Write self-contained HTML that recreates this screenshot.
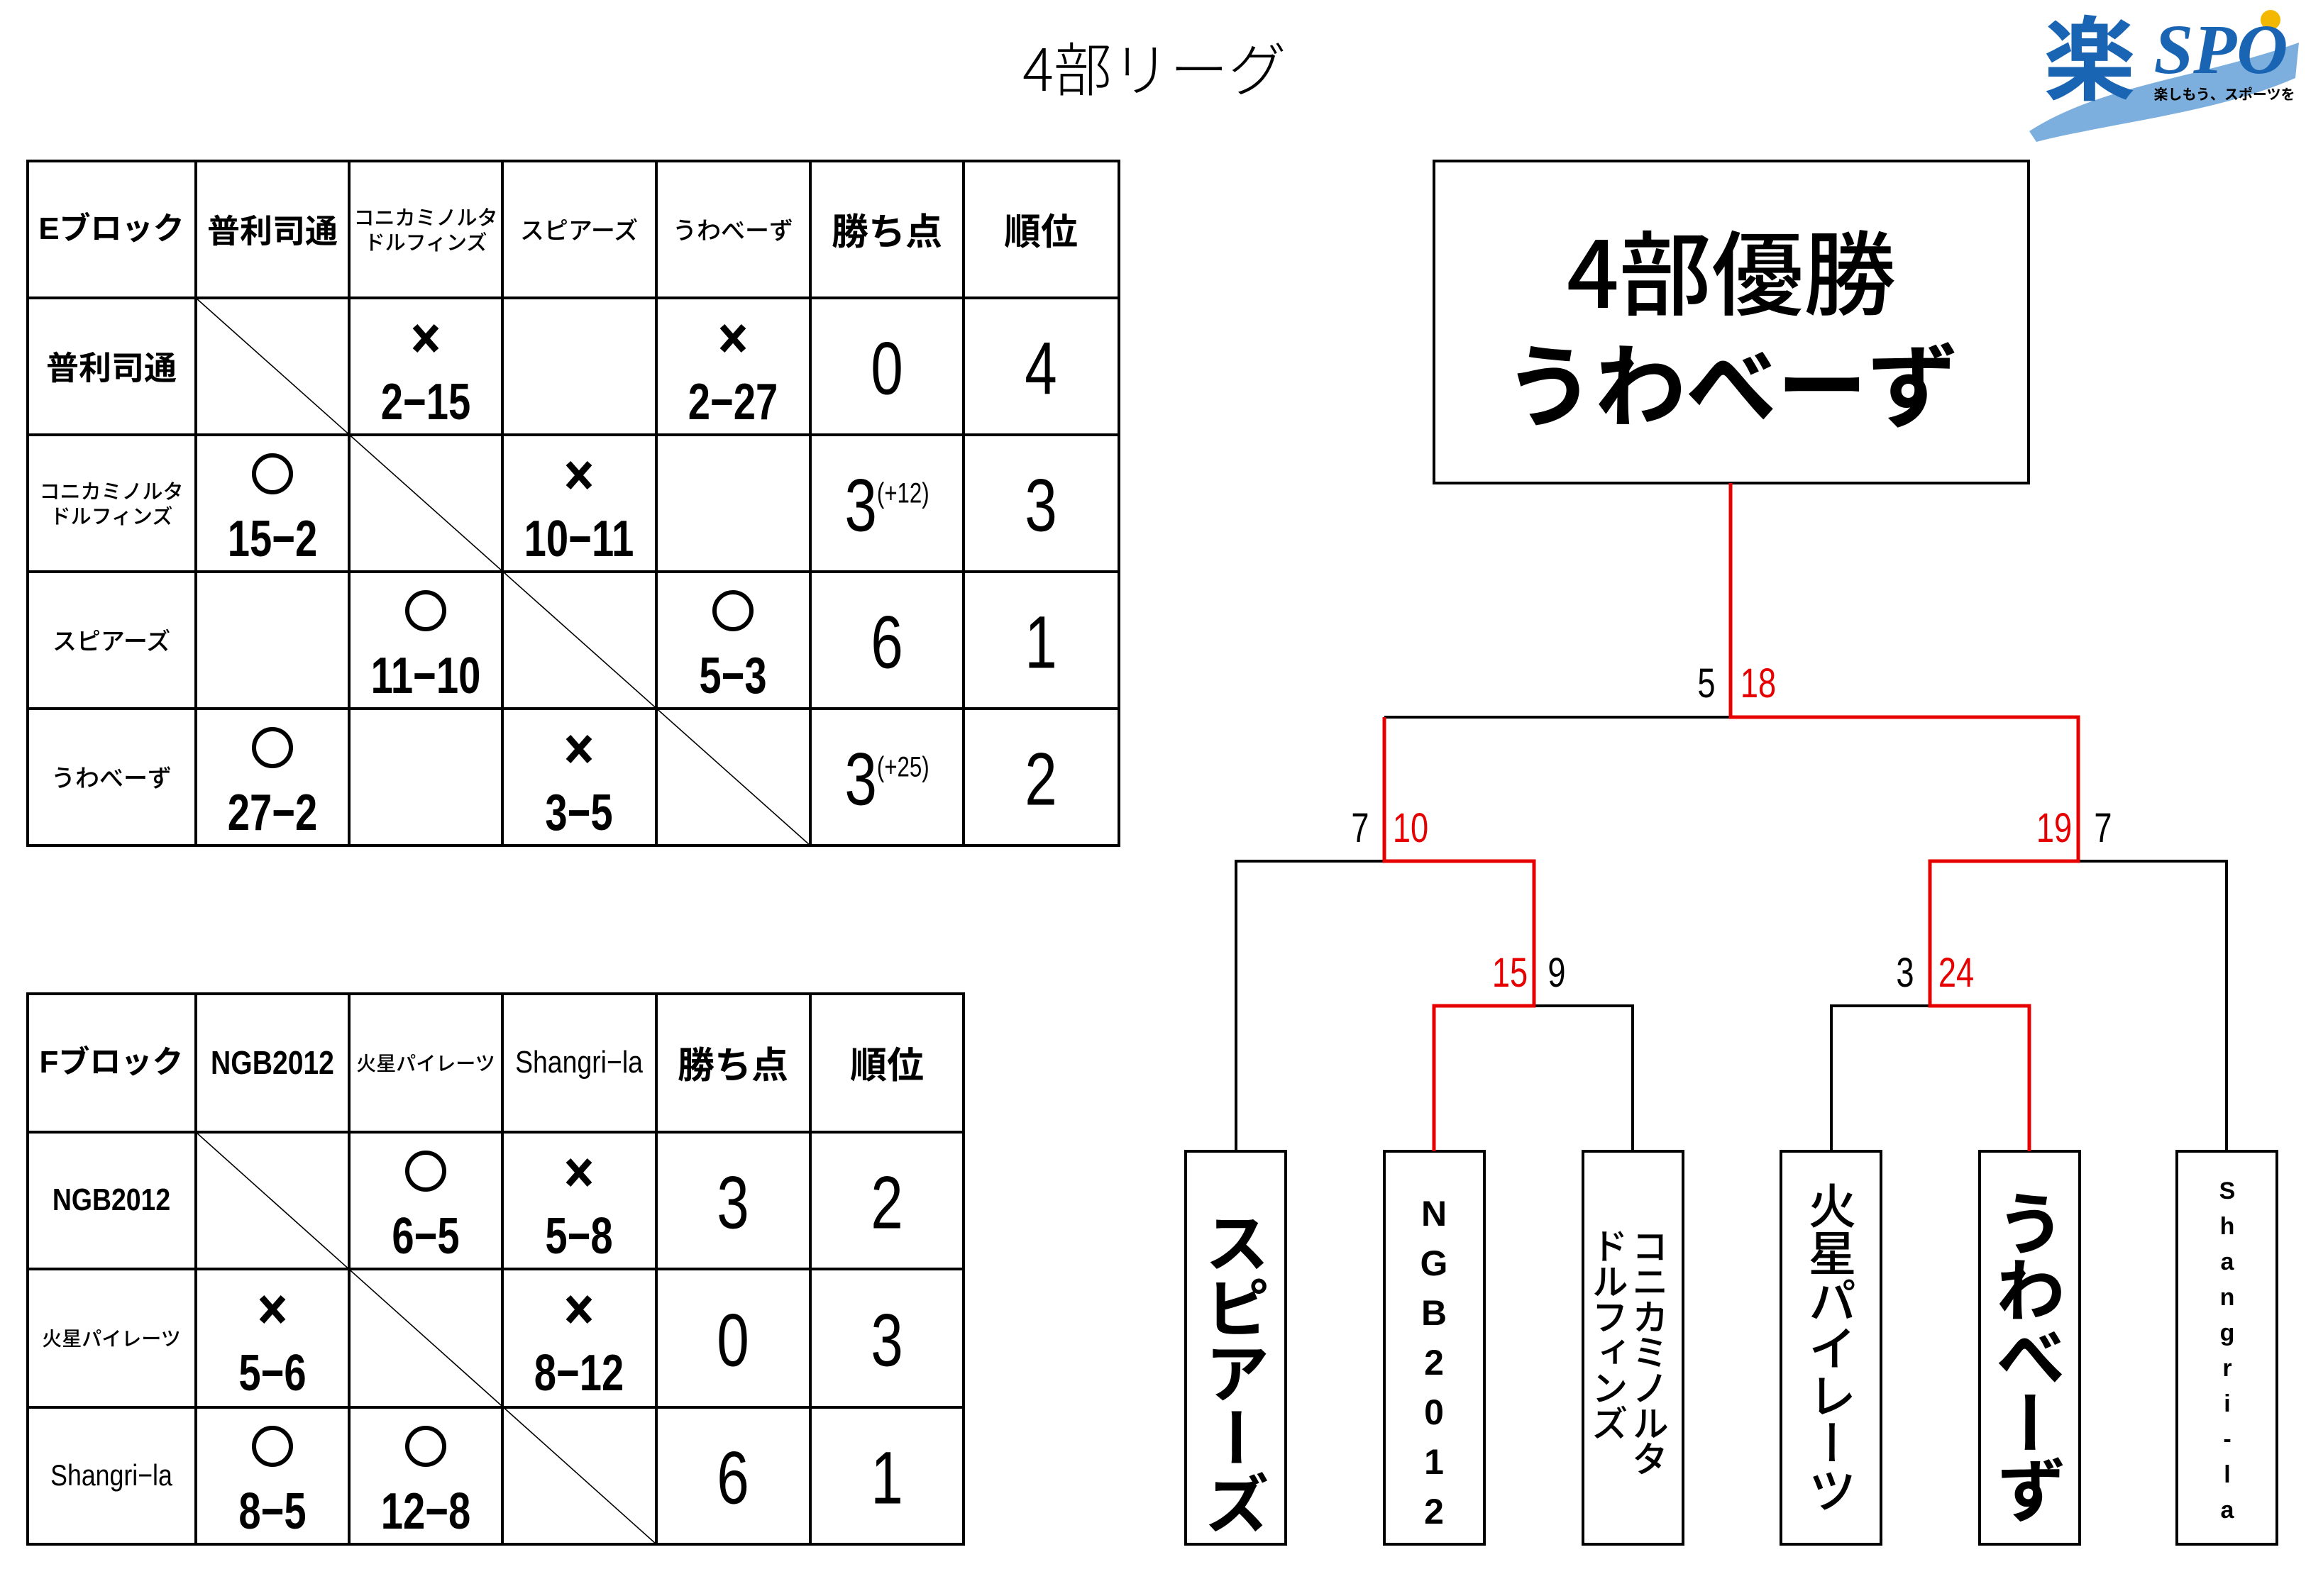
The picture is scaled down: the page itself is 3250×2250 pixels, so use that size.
<!DOCTYPE html>
<html><head><meta charset="utf-8"><style>
html,body{margin:0;padding:0;background:#fff}
#c{position:relative;width:3250px;height:2250px;overflow:hidden;background:#fff;font-family:"Liberation Sans","Noto Sans CJK JP",sans-serif}
.t{position:absolute;transform:translate(-50%,-50%);white-space:nowrap;text-align:center;line-height:1}
.b{font-weight:bold}
.n{display:inline-block;transform:scaleX(0.78)}
.v{position:absolute;writing-mode:vertical-rl;text-orientation:upright;font-family:"Noto Sans CJK JP",sans-serif;font-weight:bold;line-height:1;color:#000}
</style></head><body><div id="c">
<svg width="3250" height="2250" style="position:absolute;left:0;top:0">
<g stroke="#000" stroke-width="4" fill="none">
<rect x="39" y="227" width="1538" height="965"/>
<line x1="276" y1="227" x2="276" y2="1192"/><line x1="492" y1="227" x2="492" y2="1192"/><line x1="708" y1="227" x2="708" y2="1192"/><line x1="925" y1="227" x2="925" y2="1192"/><line x1="1142" y1="227" x2="1142" y2="1192"/><line x1="1358" y1="227" x2="1358" y2="1192"/>
<line x1="39" y1="420" x2="1577" y2="420"/><line x1="39" y1="613" x2="1577" y2="613"/><line x1="39" y1="806" x2="1577" y2="806"/><line x1="39" y1="999" x2="1577" y2="999"/>
<rect x="39" y="1401" width="1319" height="776"/>
<line x1="276" y1="1401" x2="276" y2="2177"/><line x1="492" y1="1401" x2="492" y2="2177"/><line x1="708" y1="1401" x2="708" y2="2177"/><line x1="925" y1="1401" x2="925" y2="2177"/><line x1="1142" y1="1401" x2="1142" y2="2177"/>
<line x1="39" y1="1596" x2="1358" y2="1596"/><line x1="39" y1="1789" x2="1358" y2="1789"/><line x1="39" y1="1984" x2="1358" y2="1984"/>
<rect x="2021" y="227" width="838" height="454"/>
<rect x="1671" y="1623" width="141" height="554"/><rect x="1951" y="1623" width="141" height="554"/><rect x="2231" y="1623" width="141" height="554"/><rect x="2510" y="1623" width="141" height="554"/><rect x="2790" y="1623" width="141" height="554"/><rect x="3068" y="1623" width="141" height="554"/>
<polyline points="1951,1011 2439,1011"/>
<polyline points="1742,1623 1742,1214 1951,1214"/>
<polyline points="2929,1214 3138,1214 3138,1623"/>
<polyline points="2162,1418 2301,1418 2301,1623"/>
<polyline points="2581,1623 2581,1418 2720,1418"/>
</g>
<g stroke="#000" stroke-width="1.6">
<line x1="276" y1="420" x2="1142" y2="1192"/>
<line x1="276" y1="1596" x2="925" y2="2177"/>
</g>
<g stroke="#e60000" stroke-width="5" fill="none">
<polyline points="2439,681 2439,1011 2929,1011 2929,1214 2720,1214 2720,1418 2860,1418 2860,1623"/>
<polyline points="1951,1011 1951,1214 2162,1214 2162,1418 2021,1418 2021,1623"/>
</g>
<!-- circles -->
<g stroke="#000" stroke-width="6" fill="none">
<circle cx="384" cy="668" r="26"/><circle cx="600" cy="861" r="26"/><circle cx="1033" cy="861" r="26"/><circle cx="384" cy="1054" r="26"/>
<circle cx="600" cy="1651" r="26"/><circle cx="384" cy="2039" r="26"/><circle cx="600" cy="2039" r="26"/>
</g>
<!-- crosses -->
<g stroke="#000" stroke-width="9">
<path d="M585 460 L615 494 M615 460 L585 494"/>
<path d="M1018 460 L1048 494 M1048 460 L1018 494"/>
<path d="M801 653 L831 687 M831 653 L801 687"/>
<path d="M801 1039 L831 1073 M831 1039 L801 1073"/>
<path d="M801 1636 L831 1670 M831 1636 L801 1670"/>
<path d="M369 1829 L399 1863 M399 1829 L369 1863"/>
<path d="M801 1829 L831 1863 M831 1829 L801 1863"/>
</g>
<path d="M2860 185 C2960 120 3100 110 3240 60 L3235 110 C3120 160 2990 170 2870 200 Z" fill="#5b9bd5" opacity="0.8"/>
<circle cx="3200" cy="28" r="14" fill="#f5b800"/>
</svg>

<div class="t" style="left:1627px;top:93px;font-size:82px;font-weight:300;font-family:'Noto Sans CJK JP',sans-serif">4部リーグ</div>
<div class="t b" style="left:2945px;top:75px;font-size:130px;color:#1a64b4;font-family:'Noto Sans CJK JP',sans-serif">楽</div>
<div class="t b" style="left:3130px;top:70px;font-size:100px;color:#1a64b4;font-style:italic;font-family:'Liberation Serif',serif">SPO</div>
<div class="t b" style="left:3135px;top:132px;font-size:20px;color:#000;font-family:'Noto Sans CJK JP',sans-serif">楽しもう、スポーツを</div>

<div class="t b" style="left:157px;top:323px;font-size:44px">Eブロック</div>
<div class="t b" style="left:384px;top:323px;font-size:46px;font-family:'Noto Sans CJK JP',sans-serif">普利司通</div>
<div class="t" style="left:600px;top:323px;font-size:29px;line-height:1.2;font-family:'Noto Sans CJK JP',sans-serif;font-weight:500">コニカミノルタ<br>ドルフィンズ</div>
<div class="t" style="left:816px;top:323px;font-size:34px;font-family:'Noto Sans CJK JP',sans-serif;font-weight:500">スピアーズ</div>
<div class="t" style="left:1033px;top:323px;font-size:34px;font-family:'Noto Sans CJK JP',sans-serif;font-weight:500">うわべーず</div>
<div class="t b" style="left:1250px;top:323px;font-size:52px;font-family:'Noto Sans CJK JP',sans-serif">勝ち点</div>
<div class="t b" style="left:1467px;top:323px;font-size:52px;font-family:'Noto Sans CJK JP',sans-serif">順位</div>
<div class="t b" style="left:157px;top:516px;font-size:46px;font-family:'Noto Sans CJK JP',sans-serif">普利司通</div>
<div class="t" style="left:157px;top:709px;font-size:29px;line-height:1.2;font-family:'Noto Sans CJK JP',sans-serif;font-weight:500">コニカミノルタ<br>ドルフィンズ</div>
<div class="t" style="left:157px;top:902px;font-size:34px;font-family:'Noto Sans CJK JP',sans-serif;font-weight:500">スピアーズ</div>
<div class="t" style="left:157px;top:1095px;font-size:34px;font-family:'Noto Sans CJK JP',sans-serif;font-weight:500">うわべーず</div>
<div class="t b" style="left:600px;top:567px;font-size:72px"><span class="n">2−15</span></div>
<div class="t b" style="left:1033px;top:567px;font-size:72px"><span class="n">2−27</span></div>
<div class="t b" style="left:384px;top:760px;font-size:72px"><span class="n">15−2</span></div>
<div class="t b" style="left:816px;top:760px;font-size:72px"><span class="n">10−11</span></div>
<div class="t b" style="left:600px;top:953px;font-size:72px"><span class="n">11−10</span></div>
<div class="t b" style="left:1033px;top:953px;font-size:72px"><span class="n">5−3</span></div>
<div class="t b" style="left:384px;top:1146px;font-size:72px"><span class="n">27−2</span></div>
<div class="t b" style="left:816px;top:1146px;font-size:72px"><span class="n">3−5</span></div>
<div class="t" style="left:1250px;top:520px;font-size:105px"><span class="n">0</span></div>
<div class="t" style="left:1467px;top:520px;font-size:105px"><span class="n">4</span></div>
<div class="t" style="left:1250px;top:713px;font-size:105px"><span class="n">3<span style="font-size:40px;vertical-align:40px">(+12)</span></span></div>
<div class="t" style="left:1467px;top:713px;font-size:105px"><span class="n">3</span></div>
<div class="t" style="left:1250px;top:906px;font-size:105px"><span class="n">6</span></div>
<div class="t" style="left:1467px;top:906px;font-size:105px"><span class="n">1</span></div>
<div class="t" style="left:1250px;top:1099px;font-size:105px"><span class="n">3<span style="font-size:40px;vertical-align:40px">(+25)</span></span></div>
<div class="t" style="left:1467px;top:1099px;font-size:105px"><span class="n">2</span></div>

<div class="t b" style="left:157px;top:1498px;font-size:44px">Fブロック</div>
<div class="t b" style="left:384px;top:1498px;font-size:46px"><span class="n" style="transform:scaleX(0.85)">NGB2012</span></div>
<div class="t" style="left:600px;top:1498px;font-size:28px;font-family:'Noto Sans CJK JP',sans-serif;font-weight:500">火星パイレーツ</div>
<div class="t" style="left:816px;top:1498px;font-size:44px"><span class="n" style="transform:scaleX(0.85)">Shangri−la</span></div>
<div class="t b" style="left:1033px;top:1498px;font-size:52px;font-family:'Noto Sans CJK JP',sans-serif">勝ち点</div>
<div class="t b" style="left:1250px;top:1498px;font-size:52px;font-family:'Noto Sans CJK JP',sans-serif">順位</div>
<div class="t b" style="left:157px;top:1692px;font-size:44px"><span class="n" style="transform:scaleX(0.85)">NGB2012</span></div>
<div class="t" style="left:157px;top:1886px;font-size:28px;font-family:'Noto Sans CJK JP',sans-serif;font-weight:500">火星パイレーツ</div>
<div class="t" style="left:157px;top:2080px;font-size:42px"><span class="n" style="transform:scaleX(0.85)">Shangri−la</span></div>
<div class="t b" style="left:600px;top:1743px;font-size:72px"><span class="n">6−5</span></div>
<div class="t b" style="left:816px;top:1743px;font-size:72px"><span class="n">5−8</span></div>
<div class="t b" style="left:384px;top:1936px;font-size:72px"><span class="n">5−6</span></div>
<div class="t b" style="left:816px;top:1936px;font-size:72px"><span class="n">8−12</span></div>
<div class="t b" style="left:384px;top:2131px;font-size:72px"><span class="n">8−5</span></div>
<div class="t b" style="left:600px;top:2131px;font-size:72px"><span class="n">12−8</span></div>
<div class="t" style="left:1033px;top:1696px;font-size:105px"><span class="n">3</span></div>
<div class="t" style="left:1250px;top:1696px;font-size:105px"><span class="n">2</span></div>
<div class="t" style="left:1033px;top:1890px;font-size:105px"><span class="n">0</span></div>
<div class="t" style="left:1250px;top:1890px;font-size:105px"><span class="n">3</span></div>
<div class="t" style="left:1033px;top:2084px;font-size:105px"><span class="n">6</span></div>
<div class="t" style="left:1250px;top:2084px;font-size:105px"><span class="n">1</span></div>

<div class="t" style="left:2440px;top:378px;font-size:130px;font-weight:500;font-family:'Noto Sans CJK JP',sans-serif">4部優勝</div>
<div class="t b" style="left:2440px;top:536px;font-size:128px;font-family:'Noto Sans CJK JP',sans-serif">うわべーず</div>

<div class="t" style="left:2405px;top:964px;font-size:58px"><span class="n">5</span></div>
<div class="t" style="left:2478px;top:964px;font-size:58px;color:#e60000"><span class="n">18</span></div>
<div class="t" style="left:1917px;top:1168px;font-size:58px"><span class="n">7</span></div>
<div class="t" style="left:1988px;top:1168px;font-size:58px;color:#e60000"><span class="n">10</span></div>
<div class="t" style="left:2895px;top:1168px;font-size:58px;color:#e60000"><span class="n">19</span></div>
<div class="t" style="left:2964px;top:1168px;font-size:58px"><span class="n">7</span></div>
<div class="t" style="left:2128px;top:1372px;font-size:58px;color:#e60000"><span class="n">15</span></div>
<div class="t" style="left:2194px;top:1372px;font-size:58px"><span class="n">9</span></div>
<div class="t" style="left:2685px;top:1372px;font-size:58px"><span class="n">3</span></div>
<div class="t" style="left:2757px;top:1372px;font-size:58px;color:#e60000"><span class="n">24</span></div>

<div class="v" style="left:1697px;top:1705px;font-size:92px">スピアーズ</div>
<div class="v" style="left:1996px;top:1683px;font-size:50px;font-family:'Liberation Sans',sans-serif;line-height:1;letter-spacing:14px">NGB2012</div>
<div class="v" style="left:2240px;top:1730px;font-size:52px;font-weight:500;line-height:1.1;letter-spacing:-2px">コニカミノルタ<br>ドルフィンズ</div>
<div class="v" style="left:2548px;top:1665px;font-size:68px;font-weight:500;letter-spacing:-1px">火星パイレーツ</div>
<div class="v" style="left:2813px;top:1675px;font-size:98px;letter-spacing:-4px">うわべーず</div>
<div class="v" style="left:3122px;top:1660px;font-size:34px;font-family:'Liberation Sans',sans-serif;letter-spacing:12px">Shangri-la</div>
</div></body></html>
